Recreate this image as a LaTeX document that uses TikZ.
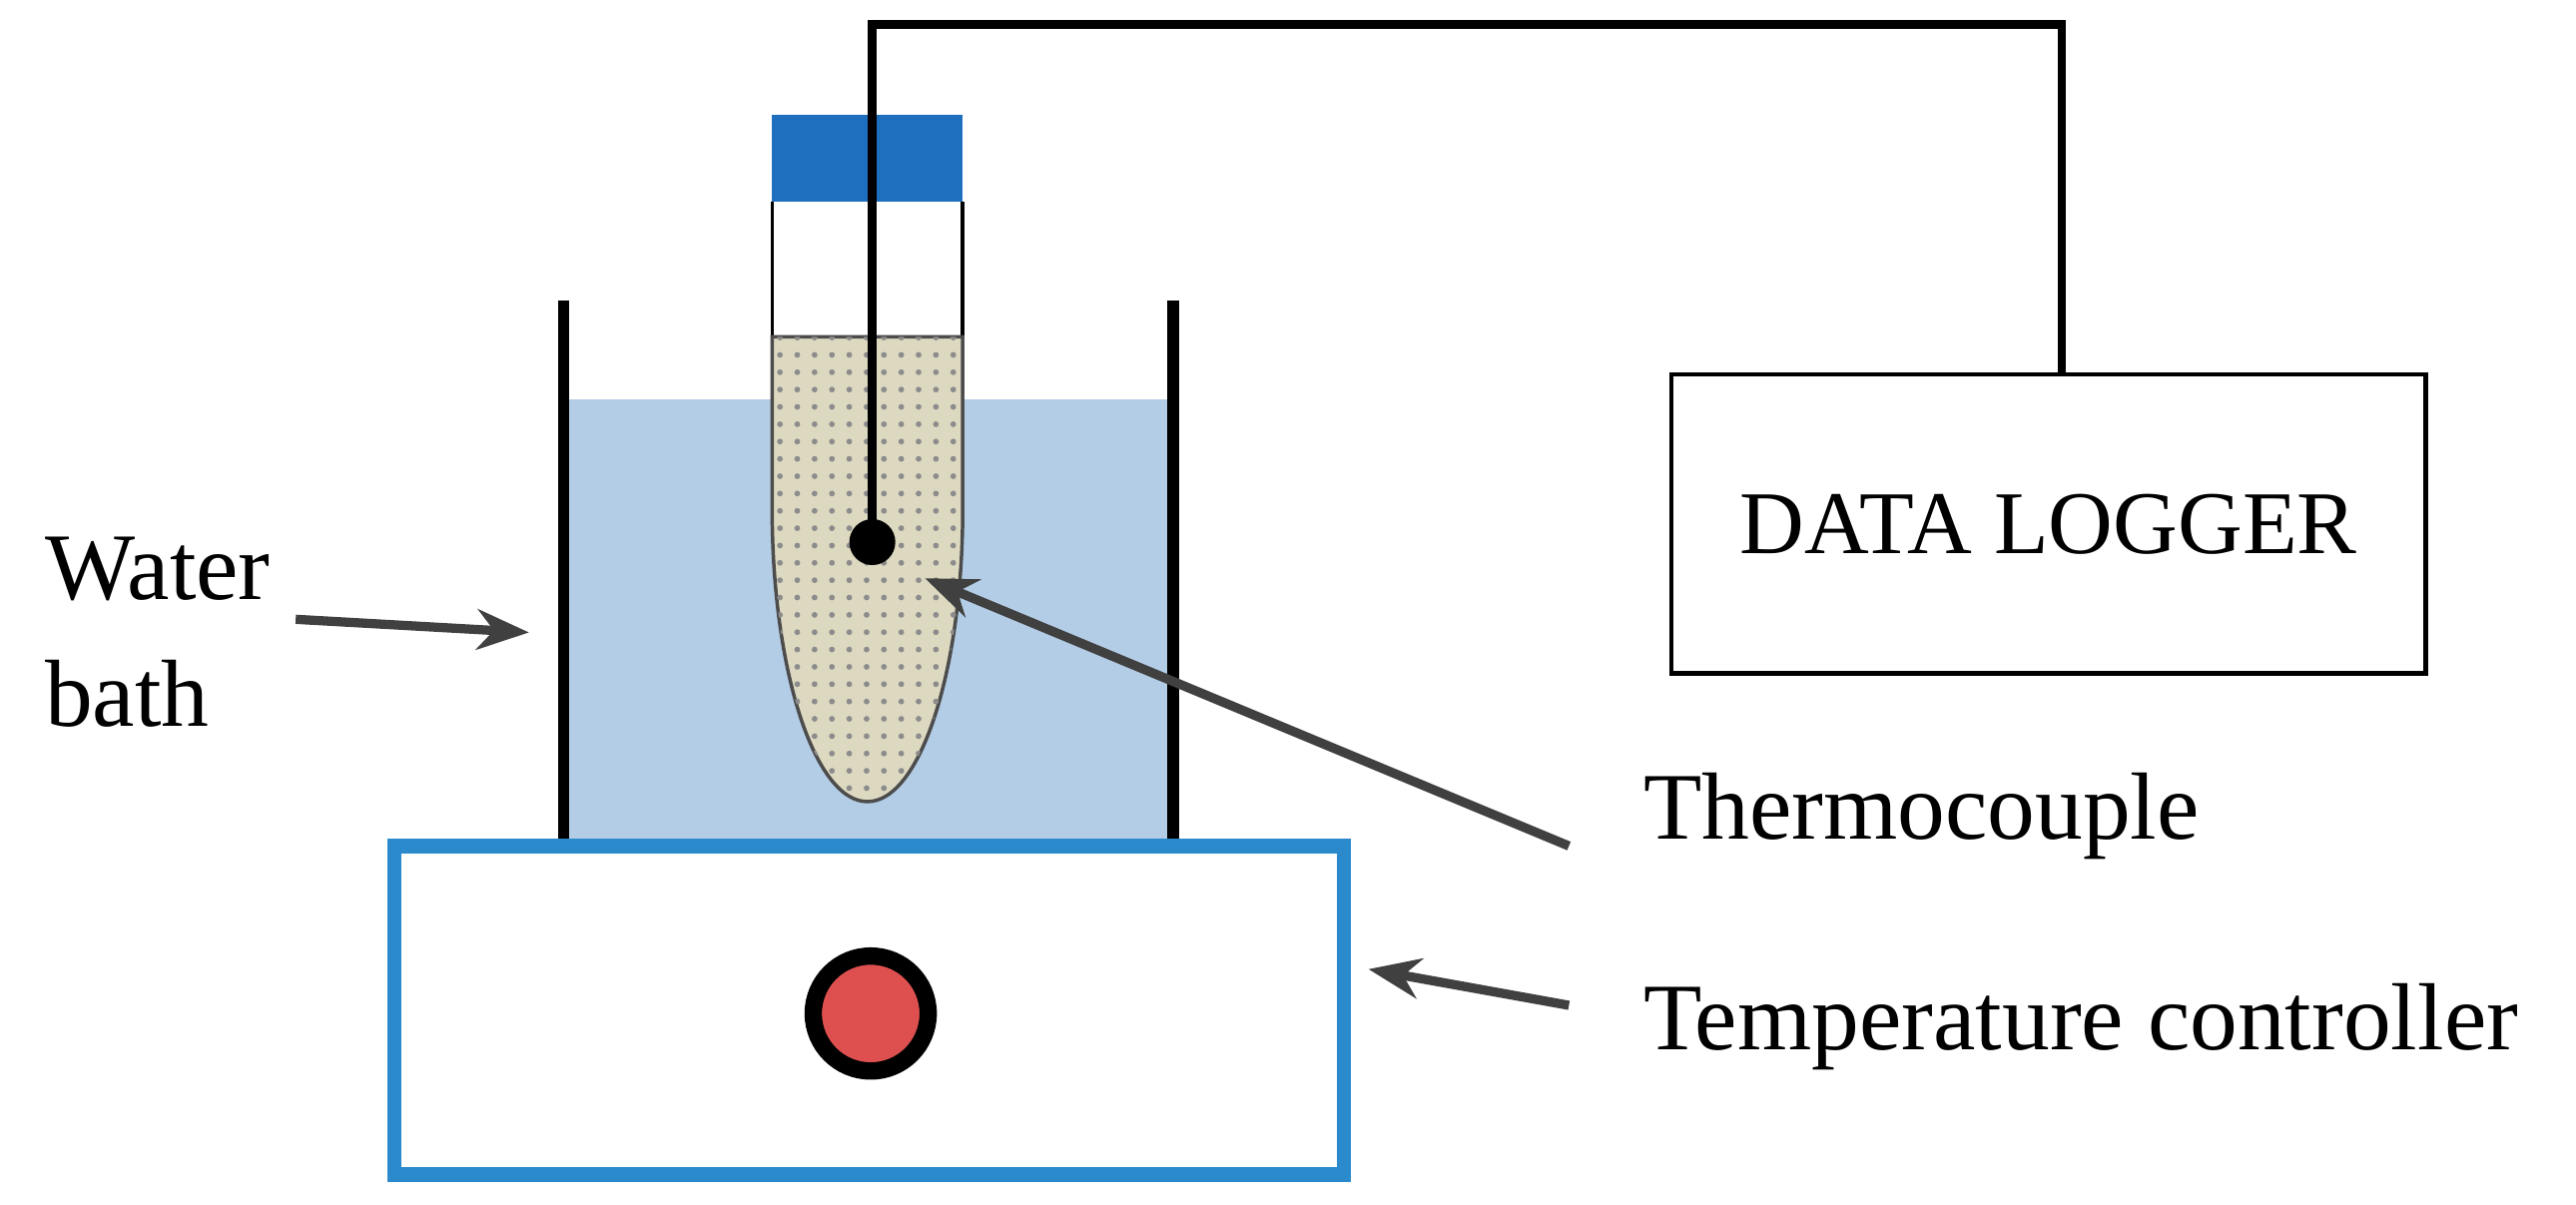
\documentclass[tikz,border=0pt]{standalone}
\usepackage{fontspec}
\setmainfont{Liberation Serif}
\usetikzlibrary{patterns,arrows.meta}
\definecolor{water}{HTML}{B4CDE6}
\definecolor{capblue}{HTML}{1F6FBF}
\definecolor{ctrlblue}{HTML}{2A8ACB}
\definecolor{sand}{HTML}{DDD8C0}
\definecolor{knob}{HTML}{DE5050}
\tikzset{
  lbl/.style={font=\fontsize{16.5}{20}\selectfont, align=left},
  pointer/.style={-{Stealth[length=9pt,width=7pt]}, line width=1.6pt, black!75},
  wall/.style={line width=2pt, black}
}
\begin{document}
\begin{tikzpicture}[x=0.01cm,y=-0.01cm]
\useasboundingbox (0,0) rectangle (1568,733);

%-------------------------------------------- Water bath
\fill[water] (343,243) rectangle (714,515);
\draw[wall] (343,183)--(343,515)--(714,515)--(714,183);

%-------------------------------------------- Test tube
\fill[white] (470,123) rectangle (586,205);
\draw[line width=0.6pt] (470,123)--(470,205) (586,123)--(586,205);
\fill[capblue] (470,70) rectangle (586,123);
\filldraw[fill=sand, draw=black!70, line width=0.6pt]
  (470,205)--(470,310) arc[start angle=180,end angle=0,x radius=58,y radius=178]--(586,205)--cycle;
\fill[pattern=dots, pattern color=black!45]
  (470,205)--(470,310) arc[start angle=180,end angle=0,x radius=58,y radius=178]--(586,205)--cycle;

%-------------------------------------------- Thermocouple and data logger
\node[draw, line width=0.8pt, minimum width=4.59cm, minimum height=1.82cm,
      font=\fontsize{15.5}{18}\selectfont] (logger) at (1247,319) {DATA LOGGER};
\fill (531,330) circle (14) coordinate (probe);
\draw[line width=1.5pt] (probe)--(531,15)--(1255,15)--(logger.north -| 1255,0);

%-------------------------------------------- Temperature controller
\draw[ctrlblue, line width=2.5pt] (240,515) rectangle (818,715);
\filldraw[fill=knob, draw=black, line width=3pt] (530,617) circle (35);

%-------------------------------------------- Labels
\node[lbl, anchor=west] (bath) at (15,385) {Water\\[2pt]bath};
\node[lbl, anchor=west] (tc) at (988,497) {Thermocouple};
\node[lbl, anchor=west] (ctrl) at (988,625) {Temperature controller};
\coordinate (bathtip) at (322,385);
\coordinate (tctip) at (563,352);
\coordinate (ctrltip) at (833,590);
\draw[pointer] (180,377) -- (bathtip);
\draw[pointer] (955,515) -- (tctip);
\draw[pointer] (955,612) -- (ctrltip);
\end{tikzpicture}
\end{document}
